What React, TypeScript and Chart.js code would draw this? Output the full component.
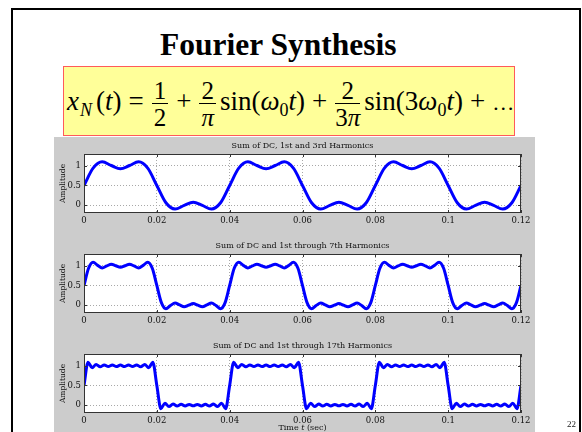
import React, { useEffect, useRef } from "react";
import { Chart, registerables } from "chart.js";

Chart.register(...registerables);

// ---- data ----
const xTickValues = [0, 0.02, 0.04, 0.06, 0.08, 0.1, 0.12];
const xTickLabels = ["0", "0.02", "0.04", "0.06", "0.08", "0.1", "0.12"];
const yTickValues = [0, 0.5, 1];
const yTickLabels = ["0", "0.5", "1"];

const plotTitles = [
  "Sum of DC, 1st and 3rd Harmonics",
  "Sum of DC and 1st through 7th Harmonics",
  "Sum of DC and 1st through 17th Harmonics",
];

// sample spacing (sec) of each curve
const sampleSteps = [0.0025, 0.00125, 0.04 / 36];

const sum3rd = [
  0.5, 0.94, 1.1, 1.007, 0.924, 1.007, 1.1, 0.94, 0.5, 0.06, -0.1, -0.007, 0.076, -0.007, -0.1, 0.06,
  0.5, 0.94, 1.1, 1.007, 0.924, 1.007, 1.1, 0.94, 0.5, 0.06, -0.1, -0.007, 0.076, -0.007, -0.1, 0.06,
  0.5, 0.94, 1.1, 1.007, 0.924, 1.007, 1.1, 0.94, 0.5, 0.06, -0.1, -0.007, 0.076, -0.007, -0.1, 0.06,
  0.5,
];

const sum7th = [
  0.5, 0.937, 1.092, 1.011, 0.946, 0.996, 1.042, 1.001, 0.961, 1.001, 1.042, 0.996, 0.946, 1.011, 1.092, 0.937,
  0.5, 0.063, -0.092, -0.011, 0.054, 0.004, -0.042, -0.001, 0.039, -0.001, -0.042, 0.004, 0.054, -0.011, -0.092, 0.063,
  0.5, 0.937, 1.092, 1.011, 0.946, 0.996, 1.042, 1.001, 0.961, 1.001, 1.042, 0.996, 0.946, 1.011, 1.092, 0.937,
  0.5, 0.063, -0.092, -0.011, 0.054, 0.004, -0.042, -0.001, 0.039, -0.001, -0.042, 0.004, 0.054, -0.011, -0.092, 0.063,
  0.5, 0.937, 1.092, 1.011, 0.946, 0.996, 1.042, 1.001, 0.961, 1.001, 1.042, 0.996, 0.946, 1.011, 1.092, 0.937,
  0.5, 0.063, -0.092, -0.011, 0.054, 0.004, -0.042, -0.001, 0.039, -0.001, -0.042, 0.004, 0.054, -0.011, -0.092, 0.063,
  0.5,
];

const sum17th = [
  0.5, 1.09, 0.95, 1.035, 0.973, 1.023, 0.98, 1.019, 0.982, 1.018, 0.982, 1.019, 0.98, 1.023, 0.973, 1.035, 0.95, 1.09,
  0.5, -0.09, 0.05, -0.035, 0.027, -0.023, 0.02, -0.019, 0.018, -0.018, 0.018, -0.019, 0.02, -0.023, 0.027, -0.035, 0.05, -0.09,
  0.5, 1.09, 0.95, 1.035, 0.973, 1.023, 0.98, 1.019, 0.982, 1.018, 0.982, 1.019, 0.98, 1.023, 0.973, 1.035, 0.95, 1.09,
  0.5, -0.09, 0.05, -0.035, 0.027, -0.023, 0.02, -0.019, 0.018, -0.018, 0.018, -0.019, 0.02, -0.023, 0.027, -0.035, 0.05, -0.09,
  0.5, 1.09, 0.95, 1.035, 0.973, 1.023, 0.98, 1.019, 0.982, 1.018, 0.982, 1.019, 0.98, 1.023, 0.973, 1.035, 0.95, 1.09,
  0.5, -0.09, 0.05, -0.035, 0.027, -0.023, 0.02, -0.019, 0.018, -0.018, 0.018, -0.019, 0.02, -0.023, 0.027, -0.035, 0.05, -0.09,
  0.5,
];

const seriesList = [sum3rd, sum7th, sum17th];

// ---- plugin: white axes background, box and inward tick marks ----
const matlabAxes = {
  id: "matlabAxes",
  beforeDraw(chart: any) {
    const { ctx, chartArea } = chart;
    const { left, right, top, bottom } = chartArea;
    ctx.save();
    ctx.fillStyle = "#ffffff";
    ctx.fillRect(left, top, right - left, bottom - top);
    ctx.restore();
  },
  afterDraw(chart: any) {
    const { ctx, chartArea, scales } = chart;
    const { left, right, top, bottom } = chartArea;
    ctx.save();
    ctx.strokeStyle = "#333333";
    ctx.lineWidth = 1;
    ctx.strokeRect(left + 0.5, top + 0.5, right - left - 1, bottom - top - 1);
    ctx.beginPath();
    const tl = 3;
    scales.x.ticks.forEach((t: any) => {
      const px = Math.round(scales.x.getPixelForValue(t.value)) + 0.5;
      ctx.moveTo(px, bottom);
      ctx.lineTo(px, bottom - tl);
      ctx.moveTo(px, top);
      ctx.lineTo(px, top + tl);
    });
    scales.y.ticks.forEach((t: any) => {
      const py = Math.round(scales.y.getPixelForValue(t.value)) + 0.5;
      ctx.moveTo(left, py);
      ctx.lineTo(left + tl, py);
      ctx.moveTo(right, py);
      ctx.lineTo(right - tl, py);
    });
    ctx.stroke();
    ctx.restore();
  },
};

const tickFont = { family: "'DejaVu Serif'", size: 8.5 };

function HarmonicPlot({ index }: { index: number }) {
  const ref = useRef<HTMLCanvasElement | null>(null);
  useEffect(() => {
    if (!ref.current) return;
    const ys = seriesList[index];
    const step = sampleSteps[index];
    const chart = new Chart(ref.current, {
      type: "line",
      data: {
        datasets: [
          {
            data: ys.map((y, i) => ({ x: i * step, y })),
            borderColor: "#0000ff",
            borderWidth: 3,
            pointRadius: 0,
            cubicInterpolationMode: "monotone",
            fill: false,
          },
        ],
      },
      options: {
        animation: false,
        responsive: false,
        events: [],
        layout: { padding: { left: 0, right: 14, top: 0, bottom: 0 } },
        plugins: {
          legend: { display: false },
          tooltip: { enabled: false },
          title: {
            display: true,
            text: plotTitles[index],
            fullSize: false,
            color: "#111111",
            font: { family: "'DejaVu Serif'", size: 8, weight: "normal", lineHeight: 1.2 },
            padding: { top: 5.2, bottom: 3.2 },
          },
        },
        scales: {
          x: {
            type: "linear",
            min: 0,
            max: 0.12,
            afterBuildTicks: (s: any) => {
              s.ticks = xTickValues.map((v) => ({ value: v }));
            },
            afterFit: (s: any) => {
              s.height = 23;
            },
            ticks: {
              autoSkip: false,
              maxRotation: 0,
              padding: 3,
              color: "#111111",
              font: tickFont,
              callback: (_v: any, i: number) => xTickLabels[i],
            },
            grid: { color: "#a8a8a8", lineWidth: 1, drawTicks: false },
            border: { display: false, dash: [1, 2] },
          },
          y: {
            type: "linear",
            min: -0.2,
            max: 1.3,
            afterBuildTicks: (s: any) => {
              s.ticks = yTickValues.map((v) => ({ value: v }));
            },
            afterFit: (s: any) => {
              s.width = 30;
            },
            ticks: {
              padding: 3,
              color: "#111111",
              font: tickFont,
              callback: (_v: any, i: number) => yTickLabels[i],
            },
            title: {
              display: true,
              text: "Amplitude",
              color: "#111111",
              font: { family: "'DejaVu Serif'", size: 7.5, lineHeight: 1.2 },
              padding: { top: 4.2, bottom: 0 },
            },
            grid: { color: "#a8a8a8", lineWidth: 1, drawTicks: false },
            border: { display: false, dash: [1, 2] },
          },
        },
      } as any,
      plugins: [matlabAxes],
    });
    return () => chart.destroy();
  }, [index]);
  return (
    <canvas
      ref={ref}
      width={481}
      height={100}
      style={{ position: "absolute", left: 54, top: 136 + index * 100, width: 481, height: 100 }}
    />
  );
}

const serif = "'Liberation Serif', 'Times New Roman', serif";

function Frac({ n, d }: { n: React.ReactNode; d: React.ReactNode }) {
  return (
    <span
      style={{
        display: "inline-flex",
        flexDirection: "column",
        alignItems: "center",
        verticalAlign: "middle",
        fontSize: 25,
        margin: "0 1px",
      }}
    >
      <span style={{ lineHeight: "21px", padding: "0 2px 2px" }}>{n}</span>
      <span
        style={{
          borderTop: "1.3px solid #000",
          lineHeight: "21px",
          paddingTop: 3,
          alignSelf: "stretch",
          textAlign: "center",
        }}
      >
        {d}
      </span>
    </span>
  );
}

const subStyle: React.CSSProperties = { fontSize: 18, verticalAlign: "-6px", lineHeight: 0 };

function Op({ c }: { c: string }) {
  return <span style={{ margin: "0 7px" }}>{c}</span>;
}

function Formula() {
  return (
    <div
      style={{
        position: "absolute",
        left: 63,
        top: 66,
        width: 452,
        height: 70,
        boxSizing: "border-box",
        background: "#ffff99",
        border: "1.5px solid #ff5a5a",
      }}
    >
      <div
        style={{
          position: "absolute",
          left: 3,
          top: 6,
          fontFamily: serif,
          fontSize: 27,
          lineHeight: "56px",
          color: "#000",
          whiteSpace: "nowrap",
        }}
      >
        <i style={{ letterSpacing: 1 }}>x</i>
        <span style={{ ...subStyle, fontStyle: "italic", marginRight: 4 }}>N</span>
        (<i>t</i>)
        <Op c="=" />
        <Frac n="1" d="2" />
        <Op c="+" />
        <Frac n="2" d={<i>π</i>} />
        <span style={{ marginLeft: 3 }}>sin(</span>
        <i>ω</i>
        <span style={subStyle}>0</span>
        <i>t</i>)
        <Op c="+" />
        <Frac n="2" d={<>3<i>π</i></>} />
        <span style={{ marginLeft: 3 }}>sin(3</span>
        <i>ω</i>
        <span style={subStyle}>0</span>
        <i>t</i>)
        <Op c="+" />
        <span style={{ fontSize: 22, letterSpacing: 1 }}>…</span>
      </div>
    </div>
  );
}

export default function App() {
  return (
    <div
      style={{
        position: "fixed",
        left: 0,
        top: 0,
        width: 582,
        height: 432,
        overflow: "hidden",
        background: "#ffffff",
      }}
    >
      <div
        style={{
          position: "absolute",
          left: 11,
          top: 8,
          width: 570,
          height: 450,
          border: "2px solid #000",
          boxSizing: "border-box",
        }}
      />
      <div
        style={{
          position: "absolute",
          left: 160,
          top: 29,
          fontFamily: serif,
          fontWeight: "bold",
          fontSize: 31.5,
          lineHeight: "31px",
          whiteSpace: "nowrap",
          color: "#000",
        }}
      >
        Fourier Synthesis
      </div>
      <Formula />
      <div
        style={{
          position: "absolute",
          left: 54,
          top: 137,
          width: 481,
          height: 300,
          background: "#cccccc",
        }}
      />
      {plotTitles.map((_, i) => (
        <HarmonicPlot key={i} index={i} />
      ))}
      <div
        style={{
          position: "absolute",
          left: 84,
          top: 423,
          width: 437,
          textAlign: "center",
          fontFamily: "'DejaVu Serif', serif",
          fontSize: 8,
          lineHeight: "10px",
          color: "#111",
          whiteSpace: "nowrap",
        }}
      >
        Time <i>t</i> (sec)
      </div>
      <div
        style={{
          position: "absolute",
          left: 567,
          top: 419,
          fontFamily: serif,
          fontSize: 9,
          lineHeight: "10px",
          color: "#222",
        }}
      >
        22
      </div>
    </div>
  );
}
